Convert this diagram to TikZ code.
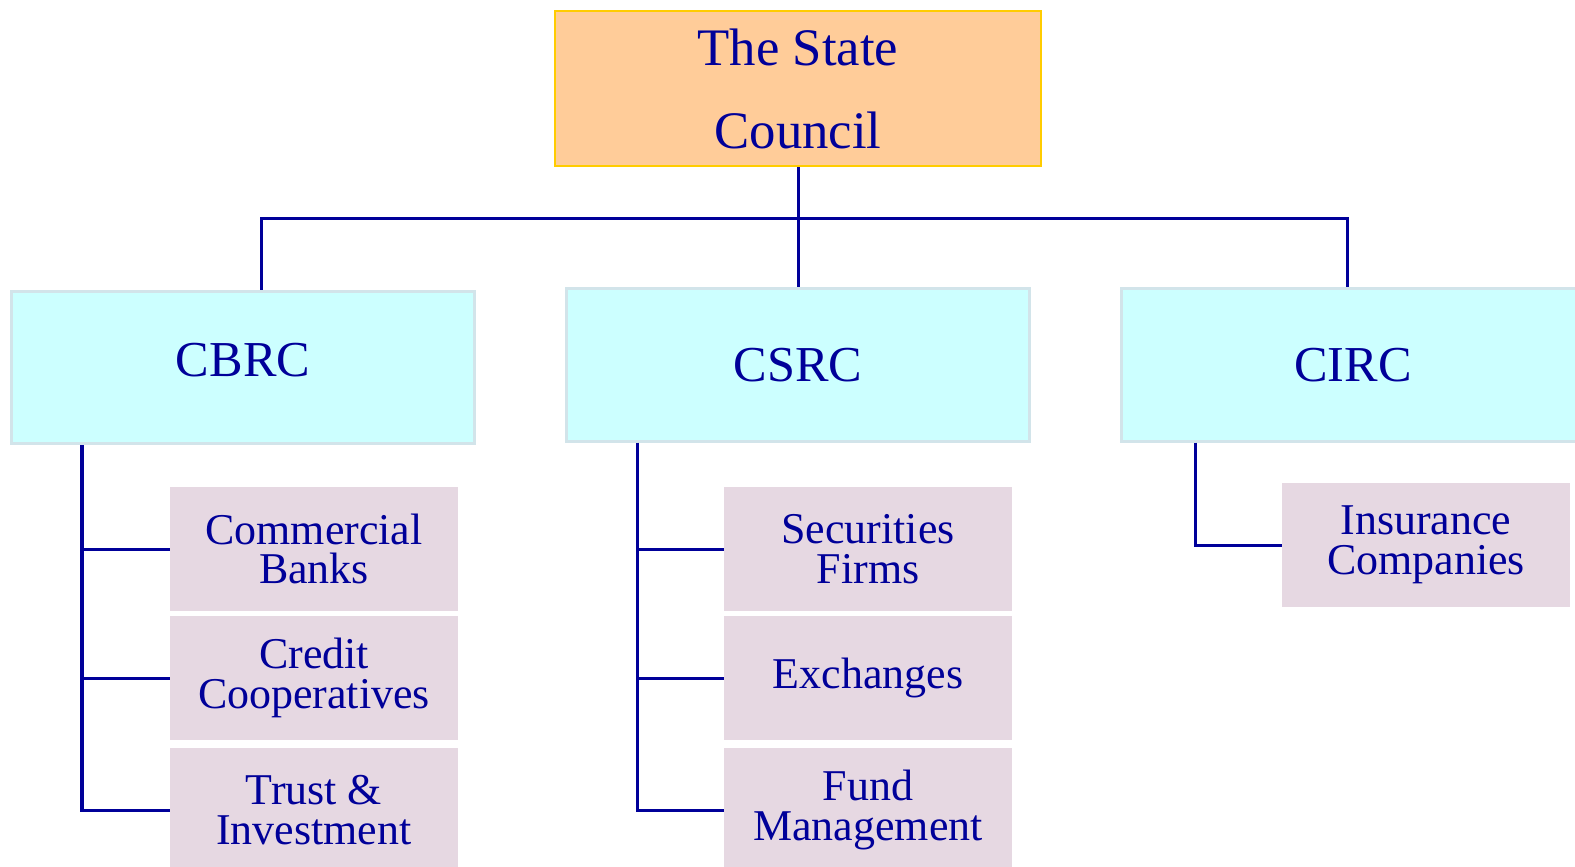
\documentclass[tikz,border=0pt]{standalone}
\usepackage{fontspec}
\setmainfont{Liberation Serif}
\definecolor{navy}{RGB}{0,0,153}
\definecolor{peach}{RGB}{255,204,153}
\definecolor{gold}{RGB}{255,204,0}
\definecolor{cyanfill}{RGB}{204,255,255}
\definecolor{cyanedge}{RGB}{210,228,234}
\definecolor{mauve}{RGB}{230,216,226}
\tikzset{
  topbox/.style={draw=gold, line width=0.02cm, fill=peach, text=navy, align=center,
    minimum width=4.86cm, minimum height=1.55cm, inner sep=0pt,
    font=\fontsize{15}{23.6}\selectfont},
  midbox/.style={draw=cyanedge, line width=0.03cm, fill=cyanfill, text=navy, align=center,
    minimum width=4.62cm, minimum height=1.52cm, inner sep=0pt,
    font=\fontsize{14.3}{17}\selectfont},
  subbox/.style={fill=mauve, text=navy, align=center,
    minimum width=2.87cm, minimum height=1.24cm, inner sep=0pt,
    font=\fontsize{12.5}{11.3}\selectfont},
  link/.style={draw=navy, line width=0.03cm}
}
\begin{document}
\begin{tikzpicture}[x=0.01cm, y=-0.01cm]
\useasboundingbox (0,0) rectangle (1575,867);
\clip (0,0) rectangle (1575,867);
\fill[white] (0,0) rectangle (1575,867);
% top
\node[topbox] (sc) at (798,88.5) {The State\\Council};
% middle
\node[midbox] (cbrc) at (243,367.5) {\raisebox{0.15cm}{CBRC}};
\node[midbox] (csrc) at (798,365) {CSRC};
\node[midbox] (circ) at (1353,365) {CIRC};
% subordinate
\node[subbox] (cb1) at (314,549) {Commercial\\Banks};
\node[subbox] (cb2) at (314,678) {Credit\\Cooperatives};
\node[subbox] (cb3) at (314,810) {Trust \&\\Investment};
\node[subbox] (cs1) at (868,549) {Securities\\Firms};
\node[subbox] (cs2) at (868,678) {Exchanges};
\node[subbox] (cs3) at (868,810) {Fund\\Management};
\node[subbox] (ci1) at (1426,545) {Insurance\\Companies};
% connectors
\coordinate (busL) at (261,219);
\coordinate (busR) at (1347,219);
\draw[link] (sc.south) -- (sc.south |- csrc.north);
\draw[link] (busL |- cbrc.north) -- (busL) -- (busR) -- (busR |- circ.north);
\coordinate (vb) at (82,0);
\coordinate (vs) at (637,0);
\coordinate (vi) at (1195,0);
\draw[link] (vb |- cbrc.south) -- (vb |- cb3.west) -- (cb3.west);
\draw[link] (vb |- cb1.west) -- (cb1.west);
\draw[link] (vb |- cb2.west) -- (cb2.west);
\draw[link] (vs |- csrc.south) -- (vs |- cs3.west) -- (cs3.west);
\draw[link] (vs |- cs1.west) -- (cs1.west);
\draw[link] (vs |- cs2.west) -- (cs2.west);
\draw[link] (vi |- circ.south) -- (vi |- ci1.west) -- (ci1.west);
\end{tikzpicture}
\end{document}
